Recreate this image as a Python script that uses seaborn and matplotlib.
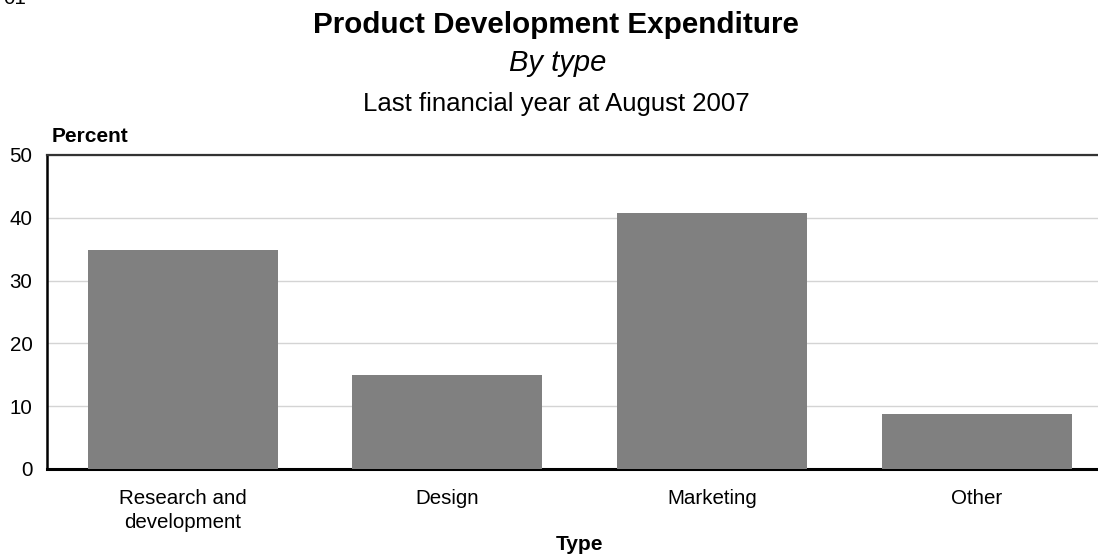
import matplotlib
matplotlib.use("Agg")
import matplotlib.pyplot as plt
import seaborn as sns
import pandas as pd

# Expenditure share by type (percent)
categories = ["Research and\ndevelopment", "Design", "Marketing", "Other"]
values = [34.8, 14.9, 40.8, 8.8]
y_ticks = [0, 10, 20, 30, 40, 50]

title = "Product Development Expenditure"
subtitle_1 = "By type"
subtitle_2 = "Last financial year at August 2007"

sns.set_theme(style="white")
plt.rcParams["font.family"] = ["Liberation Sans", "DejaVu Sans"]
plt.rcParams["text.color"] = "black"
plt.rcParams["axes.labelcolor"] = "black"
plt.rcParams["xtick.color"] = "black"
plt.rcParams["ytick.color"] = "black"

df = pd.DataFrame({"Type": categories, "Percent": values})

fig = plt.figure(figsize=(10.98, 5.55), dpi=100)
ax = fig.add_axes([47 / 1098, 1 - 469 / 555, 1051 / 1098, 314 / 555])

sns.barplot(data=df, x="Type", y="Percent", color="#808080", saturation=1,
            width=0.717, linewidth=0, edgecolor="none", ax=ax, zorder=3)

ax.set_ylim(0, 50)
ax.set_xlim(-0.512, 3.457)
ax.set_yticks(y_ticks)
ax.yaxis.grid(True, color="#d4d4d4", linewidth=1.0, zorder=0)
ax.xaxis.grid(False)
ax.set_axisbelow(True)

for side in ["left", "bottom", "top"]:
    ax.spines[side].set_visible(True)
    ax.spines[side].set_color("black")
ax.spines["left"].set_linewidth(1.8)
ax.spines["bottom"].set_linewidth(2.2)
ax.spines["top"].set_linewidth(1.6)
ax.spines["top"].set_color("#333333")
ax.spines["right"].set_visible(False)

ax.tick_params(axis="both", length=0, labelsize=14.8)
ax.tick_params(axis="y", pad=10.5)
ax.tick_params(axis="x", pad=14.5)
for lbl in ax.get_xticklabels():
    lbl.set_linespacing(1.35)

ax.set_ylabel("")
ax.set_xlabel("Type", fontsize=15, fontweight="bold")
ax.xaxis.set_label_coords(532 / 1051, -0.258)
ax.xaxis.label.set_va("baseline")
ax.text(5 / 1051, 1.03, "Percent", transform=ax.transAxes, fontsize=15,
        fontweight="bold", ha="left", va="bottom")

cx = 556 / 1098
fig.text(cx, 1 - 33 / 555, title, ha="center", va="baseline",
         fontsize=21.3, fontweight="bold")
fig.text(cx + 2 / 1098, 1 - 71 / 555, subtitle_1, ha="center", va="baseline",
         fontsize=21, fontstyle="italic")
fig.text(cx, 1 - 110.5 / 555, subtitle_2, ha="center", va="baseline",
         fontsize=18.5)
fig.text(3 / 1098, 1 - 4 / 555, "01", ha="left", va="baseline", fontsize=14.8)

fig.savefig("out.png", dpi=100)
